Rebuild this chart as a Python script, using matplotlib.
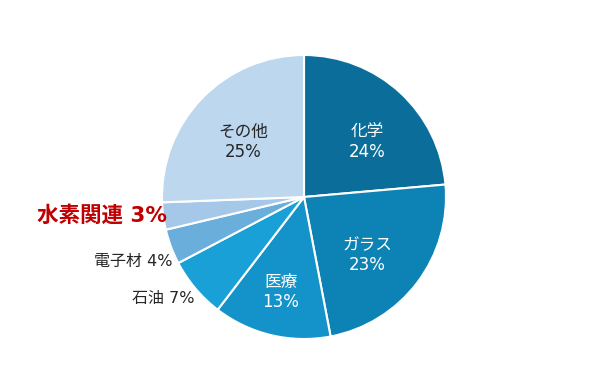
import matplotlib.pyplot as plt

# DejaVu first for digits (Verdana-like, as in the original), CJK as fallback
plt.rcParams['font.family'] = ['DejaVu Sans', 'Noto Sans CJK JP']

labels = ["化学", "ガラス", "医療", "石油", "電子材", "水素関連", "その他"]
shares = [23.6, 23.4, 13.4, 6.9, 4.0, 3.1, 25.6]
pct_text = ["24%", "23%", "13%", "7%", "4%", "3%", "25%"]
colors = ["#0b6e9a", "#0c83b4", "#1393c9", "#19a0d6", "#6aaedc", "#a6c8e8", "#bdd7ee"]

# pie centre and radius in pixels of the 600x392 image
cx, cy, r = 304, 197, 142

fig = plt.figure(figsize=(6, 3.92), dpi=100)
ax = fig.add_axes([0, 0, 1, 1])
ax.pie(shares, colors=colors, startangle=90, counterclock=False,
       wedgeprops=dict(edgecolor="white", linewidth=1.5))
ax.set_aspect("auto")
ax.set_xlim(-cx / r, (600 - cx) / r)
ax.set_ylim(-(392 - cy) / r, cy / r)
ax.axis("off")


def px(x, y):
    return (x - cx) / r, (cy - y) / r


# labels inside the wedges: (x, y of name line), colour
inside = {
    "化学": ((367, 132), "white"),
    "ガラス": ((367, 245), "white"),
    "医療": ((281, 282), "white"),
    "その他": ((243, 132), "#262626"),
}
for name, ((x, y), c) in inside.items():
    i = labels.index(name)
    ax.text(*px(x, y), name, ha="center", va="center", fontsize=12, color=c)
    ax.text(*px(x, y + 20), pct_text[i], ha="center", va="center",
            fontsize=12, color=c)

# labels outside
i = labels.index("水素関連")
ax.text(*px(167, 215), f"{labels[i]} {pct_text[i]}", ha="right", va="center",
        fontsize=15.5, color="#c00000", fontweight="bold")
i = labels.index("電子材")
ax.text(*px(173, 261), f"{labels[i]} {pct_text[i]}", ha="right", va="center",
        fontsize=11.5, color="#262626")
i = labels.index("石油")
ax.text(*px(195, 298), f"{labels[i]} {pct_text[i]}", ha="right", va="center",
        fontsize=11.5, color="#262626")

plt.savefig("out.png", dpi=100)
